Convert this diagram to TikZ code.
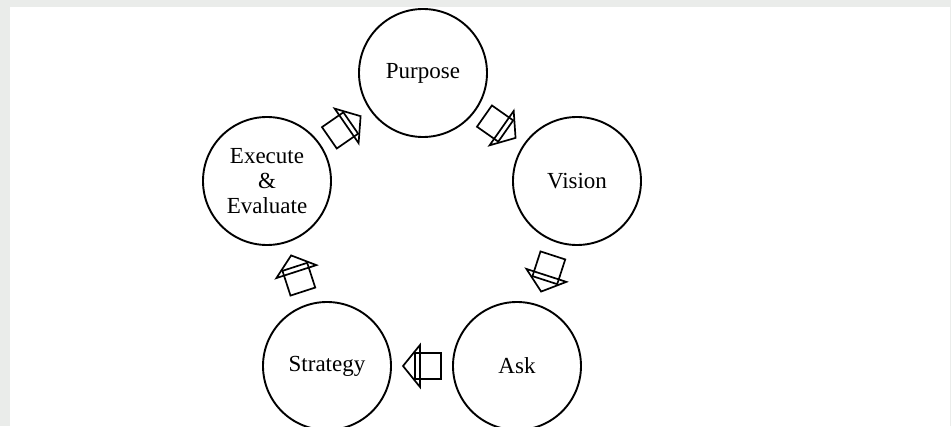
\documentclass[tikz,border=0pt]{standalone}
\usepackage{fontspec}
\setmainfont{Liberation Serif}
\usetikzlibrary{calc}
\definecolor{framegray}{RGB}{234,236,234}
\begin{document}
\begin{tikzpicture}[x=1pt,y=1pt,
  stage/.style={circle, draw=black, line width=1.9pt, minimum size=128pt,
    inner sep=0pt, align=center, font=\fontsize{23}{25}\selectfont},
  pics/flowarrow/.style={code={
    % arrow head, then the square body over it (outline only)
    \filldraw[fill=white, line width=1.7pt, line join=miter]
      (2,-21) -- (19,0) -- (2,21) -- cycle;
    \draw[line width=1.7pt] (-19,-13) rectangle (7,13);
  }}]
\useasboundingbox (0,0) rectangle (951,426);
\fill[framegray] (0,0) rectangle (951,426);
\fill[white] (10,0) rectangle (950,419);
\clip (0,0) rectangle (951,419);

\node[stage] (purpose)  at (423,353) {Purpose};
\node[stage] (vision)   at (577,245) {Vision};
\node[stage] (ask)      at (517,60)  {Ask};
\node[stage] (strategy) at (327,60)  {Strategy};
\node[stage] (execute)  at (267,245) {Execute\\\&\\Evaluate};

\foreach \a/\b in {purpose/vision, vision/ask, ask/strategy,
                   strategy/execute, execute/purpose}{
  \path let \p1=($(\b)-(\a)$), \n1={atan2(\y1,\x1)} in
    pic[rotate=\n1] at ($(\a)!0.5!(\b)$) {flowarrow};
}
\end{tikzpicture}
\end{document}
